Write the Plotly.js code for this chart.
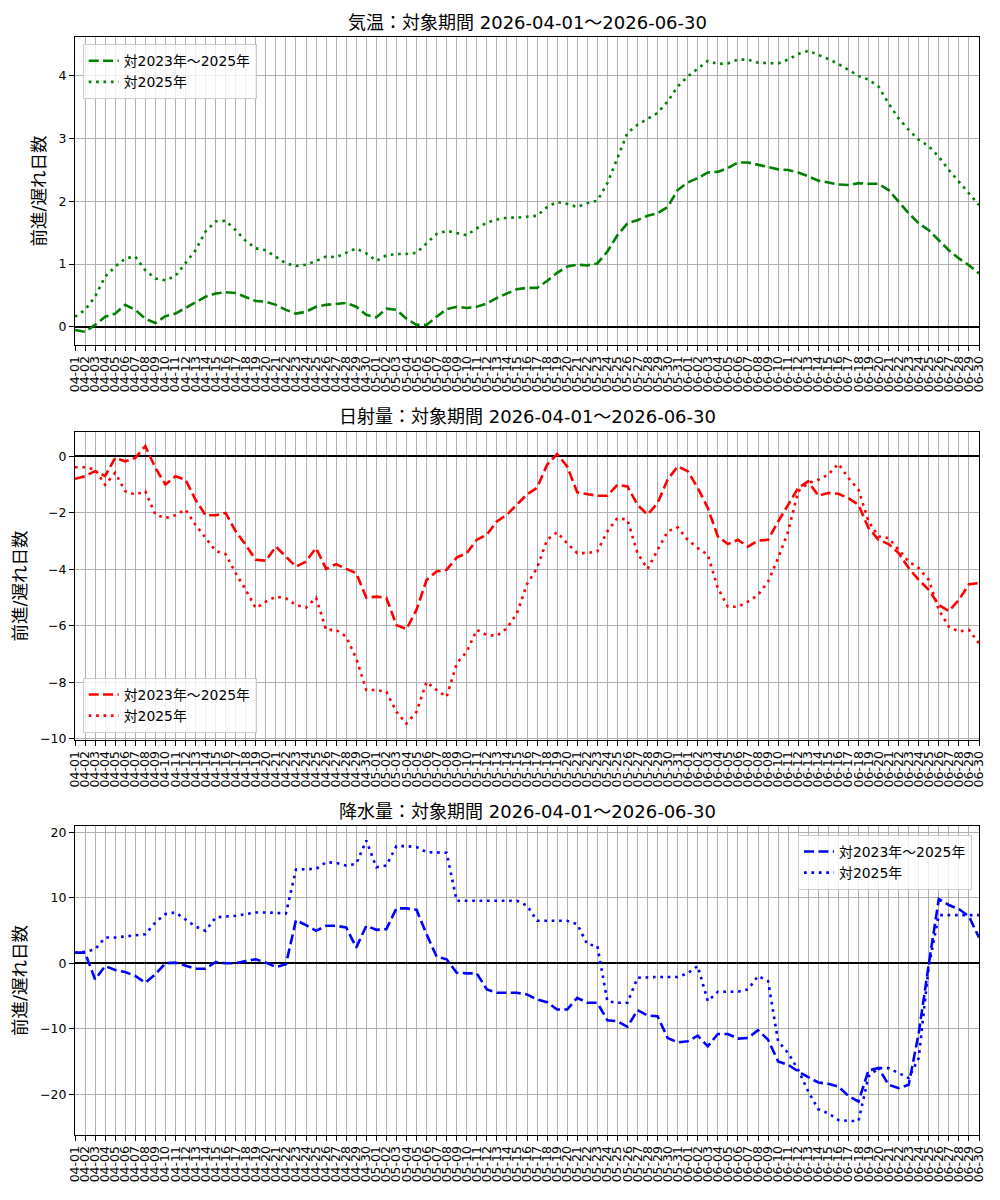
<!DOCTYPE html>
<html>
<head>
<meta charset="utf-8">
<script src="https://cdn.plot.ly/plotly-3.0.1.min.js"></script>
<style>
  body { margin: 0; background: #fff; }
  #chart { width: 1000px; height: 1200px; }
</style>
</head>
<body>
<div id="chart"></div>
<script>
// 日付ラベル (2026-04-01 ～ 2026-06-30)
const dates = [
  "04-01","04-02","04-03","04-04","04-05","04-06","04-07","04-08","04-09","04-10",
  "04-11","04-12","04-13","04-14","04-15","04-16","04-17","04-18","04-19","04-20",
  "04-21","04-22","04-23","04-24","04-25","04-26","04-27","04-28","04-29","04-30",
  "05-01","05-02","05-03","05-04","05-05","05-06","05-07","05-08","05-09","05-10",
  "05-11","05-12","05-13","05-14","05-15","05-16","05-17","05-18","05-19","05-20",
  "05-21","05-22","05-23","05-24","05-25","05-26","05-27","05-28","05-29","05-30",
  "05-31","06-01","06-02","06-03","06-04","06-05","06-06","06-07","06-08","06-09",
  "06-10","06-11","06-12","06-13","06-14","06-15","06-16","06-17","06-18","06-19",
  "06-20","06-21","06-22","06-23","06-24","06-25","06-26","06-27","06-28","06-29",
  "06-30"
];

const seriesNames = ["対2023年～2025年", "対2025年"];

// 気温
const tempVs3y = [
  -0.05,-0.08,0.03,0.16,0.21,0.35,0.27,0.13,0.06,0.17,
  0.21,0.30,0.40,0.48,0.53,0.55,0.54,0.48,0.41,0.40,
  0.35,0.27,0.21,0.24,0.32,0.35,0.36,0.38,0.32,0.19,
  0.15,0.29,0.27,0.13,0.03,0.03,0.16,0.28,0.32,0.30,
  0.32,0.37,0.46,0.53,0.60,0.62,0.62,0.73,0.86,0.96,
  0.99,0.98,1.01,1.20,1.46,1.65,1.70,1.77,1.81,1.91,
  2.18,2.30,2.37,2.46,2.47,2.53,2.62,2.62,2.58,2.54,
  2.51,2.50,2.46,2.40,2.33,2.30,2.27,2.26,2.29,2.28,
  2.28,2.18,1.99,1.81,1.65,1.54,1.38,1.22,1.09,0.98,
  0.85
];
const tempVs2025 = [
  0.16,0.27,0.48,0.80,0.96,1.09,1.12,0.90,0.77,0.74,
  0.81,1.01,1.22,1.52,1.68,1.69,1.54,1.37,1.25,1.22,
  1.12,1.01,0.97,0.99,1.05,1.12,1.11,1.18,1.25,1.17,
  1.05,1.14,1.16,1.16,1.18,1.33,1.48,1.53,1.49,1.46,
  1.57,1.66,1.71,1.74,1.74,1.76,1.77,1.91,1.99,1.96,
  1.91,1.97,2.01,2.29,2.69,3.09,3.22,3.32,3.41,3.59,
  3.83,3.99,4.12,4.24,4.19,4.20,4.26,4.26,4.21,4.20,
  4.20,4.26,4.35,4.40,4.34,4.27,4.19,4.09,4.00,3.94,
  3.83,3.56,3.32,3.14,2.98,2.88,2.71,2.50,2.31,2.12,
  1.94
];

// 日射量
const solarVs3y = [
  -0.80,-0.71,-0.53,-0.70,-0.06,-0.18,-0.06,0.36,-0.41,-1.00,
  -0.71,-0.83,-1.54,-2.09,-2.09,-2.01,-2.66,-3.14,-3.67,-3.70,
  -3.20,-3.55,-3.91,-3.73,-3.25,-3.99,-3.82,-3.99,-4.14,-5.01,
  -4.97,-5.01,-5.98,-6.12,-5.44,-4.38,-4.08,-4.02,-3.59,-3.43,
  -2.96,-2.78,-2.31,-2.07,-1.72,-1.35,-1.12,-0.30,0.08,-0.36,
  -1.28,-1.34,-1.40,-1.40,-1.01,-1.07,-1.72,-2.07,-1.66,-0.83,
  -0.36,-0.53,-1.12,-1.83,-2.84,-3.11,-2.96,-3.20,-2.99,-2.96,
  -2.31,-1.72,-1.12,-0.89,-1.40,-1.30,-1.33,-1.48,-1.72,-2.54,
  -2.96,-3.11,-3.43,-3.96,-4.38,-4.73,-5.27,-5.48,-5.09,-4.53,
  -4.49
];
const solarVs2025 = [
  -0.39,-0.39,-0.47,-1.01,-0.59,-1.24,-1.36,-1.24,-2.07,-2.19,
  -2.09,-1.89,-2.43,-2.90,-3.35,-3.47,-4.14,-4.73,-5.38,-5.15,
  -4.97,-5.03,-5.27,-5.36,-5.01,-6.15,-6.15,-6.39,-7.16,-8.28,
  -8.28,-8.34,-9.05,-9.47,-9.05,-7.99,-8.28,-8.52,-7.34,-6.92,
  -6.15,-6.33,-6.36,-6.09,-5.56,-4.53,-3.96,-2.96,-2.69,-3.08,
  -3.43,-3.43,-3.37,-2.66,-2.19,-2.25,-3.43,-3.99,-3.31,-2.66,
  -2.52,-2.96,-3.25,-3.49,-4.67,-5.33,-5.33,-5.15,-4.91,-4.44,
  -3.61,-2.66,-1.24,-0.95,-0.83,-0.65,-0.27,-0.77,-1.18,-2.31,
  -2.84,-2.90,-3.31,-3.73,-3.96,-4.38,-5.44,-6.04,-6.21,-6.15,
  -6.63
];

// 降水量
const rainVs3y = [
  1.63,1.63,-2.45,-0.41,-1.02,-1.33,-1.94,-2.96,-1.69,0.00,
  0.10,-0.41,-0.82,-0.82,0.20,0.00,0.00,0.36,0.61,0.10,
  -0.56,-0.15,6.59,5.82,4.96,5.72,5.72,5.47,2.40,5.72,
  5.11,5.21,8.38,8.38,8.17,4.44,1.02,0.61,-1.43,-1.53,
  -1.53,-3.98,-4.50,-4.50,-4.50,-4.75,-5.52,-5.93,-7.05,-7.05,
  -5.26,-6.03,-6.03,-8.68,-8.84,-9.70,-7.15,-7.97,-8.07,-11.39,
  -12.06,-11.90,-11.03,-12.67,-10.78,-10.78,-11.49,-11.39,-10.22,-11.65,
  -14.97,-15.48,-16.50,-17.37,-18.19,-18.39,-18.80,-20.23,-21.10,-16.35,
  -15.99,-18.54,-19.05,-18.54,-10.63,-0.15,9.81,8.89,8.28,7.15,
  3.93
];
const rainVs2025 = [
  1.63,1.74,2.15,3.93,3.93,4.09,4.29,4.44,6.23,7.51,
  7.76,6.74,5.62,4.96,7.00,7.15,7.25,7.51,7.76,7.76,
  7.66,7.61,14.30,14.30,14.41,15.43,15.33,14.92,15.17,18.75,
  14.66,14.92,17.88,17.88,17.73,16.96,16.86,16.86,9.55,9.55,
  9.55,9.55,9.55,9.55,9.55,8.80,6.49,6.49,6.49,6.49,
  5.98,2.91,2.66,-5.77,-6.03,-6.03,-2.20,-2.09,-2.09,-2.09,
  -2.09,-1.53,-0.41,-5.77,-4.34,-4.34,-4.34,-3.98,-1.94,-2.71,
  -11.90,-13.69,-16.25,-19.57,-22.27,-22.89,-23.91,-24.06,-24.06,-17.27,
  -15.99,-15.99,-16.76,-17.52,-14.46,-0.41,7.36,7.36,7.36,7.36,
  7.36
];

const panels = [
  { title: "気温：対象期間 2026-04-01～2026-06-30", color: "green", a: tempVs3y, b: tempVs2025 },
  { title: "日射量：対象期間 2026-04-01～2026-06-30", color: "red", a: solarVs3y, b: solarVs2025 },
  { title: "降水量：対象期間 2026-04-01～2026-06-30", color: "blue", a: rainVs3y, b: rainVs2025 }
];

const FONT = "DejaVu Sans, Noto Sans CJK JP, sans-serif";
const domains = [[0.7195, 1], [0.3597, 0.6403], [0, 0.2814]];
const yRanges = [[-0.29, 4.62], [-10.05, 0.86], [-26.2, 20.95]];
const yDticks = [1, 2, 10];

const legendStyle = {
  bgcolor: "rgba(255,255,255,0.8)", bordercolor: "#cccccc", borderwidth: 1,
  itemwidth: 30,
  font: { family: FONT, size: 13.9 }
};

const traces = [];
const layout = {
  width: 1000,
  height: 1200,
  margin: { l: 75, r: 21, t: 37, b: 65 },
  paper_bgcolor: "white",
  plot_bgcolor: "white",
  font: { family: FONT, size: 13, color: "black" },
  annotations: [],
  legend: Object.assign({ x: 0.0085, y: 0.9934, xanchor: "left", yanchor: "top" }, legendStyle),
  legend2: Object.assign({ x: 0.0085, y: 0.3661, xanchor: "left", yanchor: "bottom" }, legendStyle),
  legend3: Object.assign({ x: 0.9923, y: 0.2732, xanchor: "right", yanchor: "top" }, legendStyle)
};

panels.forEach((p, i) => {
  const n = i === 0 ? "" : String(i + 1);
  const legendId = "legend" + n;
  traces.push({
    x: dates, y: p.a, type: "scatter", mode: "lines",
    name: seriesNames[0], legend: legendId,
    xaxis: "x" + n, yaxis: "y" + n,
    line: { color: p.color, width: 2.6, dash: "10px,4.4px" }
  });
  traces.push({
    x: dates, y: p.b, type: "scatter", mode: "lines",
    name: seriesNames[1], legend: legendId,
    xaxis: "x" + n, yaxis: "y" + n,
    line: { color: p.color, width: 2.6, dash: "2.7px,4.7px" }
  });

  layout["xaxis" + n] = {
    type: "category",
    anchor: "y" + n,
    domain: [0, 1],
    range: [0, dates.length - 1],
    tickmode: "array",
    tickvals: dates,
    ticktext: dates,
    tickangle: -90,
    tickfont: { family: FONT, size: 12.5 },
    ticks: "outside", ticklen: 5, tickcolor: "black", tickwidth: 1,
    showgrid: true, gridcolor: "#b0b0b0", gridwidth: 1,
    showline: true, mirror: true, linecolor: "black", linewidth: 1,
    zeroline: false
  };
  layout["yaxis" + n] = {
    anchor: "x" + n,
    domain: domains[i],
    range: yRanges[i],
    dtick: yDticks[i],
    tick0: 0,
    tickfont: { family: FONT, size: 12.5 },
    ticks: "outside", ticklen: 5, tickcolor: "black", tickwidth: 1,
    showgrid: true, gridcolor: "#b0b0b0", gridwidth: 1,
    showline: true, mirror: true, linecolor: "black", linewidth: 1,
    zeroline: true, zerolinecolor: "black", zerolinewidth: 2,
    title: { text: "前進/遅れ日数", font: { family: FONT, size: 17.5 }, standoff: 8 }
  };
  layout.annotations.push({
    text: p.title,
    xref: "paper", yref: "paper",
    x: 0.5, y: domains[i][1],
    xanchor: "center", yanchor: "middle", yshift: 15,
    showarrow: false,
    font: { family: FONT, size: 18, color: "black" }
  });
});

Plotly.newPlot("chart", traces, layout, { displayModeBar: false, staticPlot: true });
</script>
</body>
</html>
